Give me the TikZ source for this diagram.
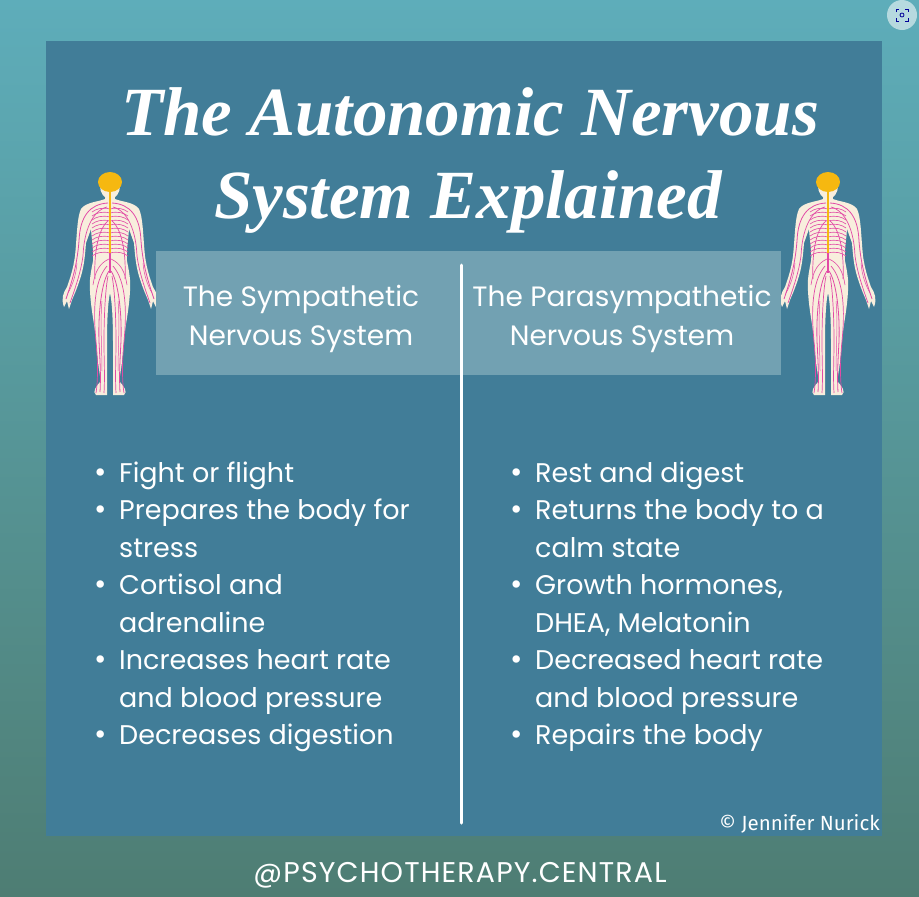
\documentclass[tikz,border=0pt]{standalone}
\usepackage{fontspec}
\setmainfont{Poppins}
\newfontfamily\titlefont{Liberation Serif}
\newfontfamily\notefont{Fira Sans}
\usetikzlibrary{positioning}
\definecolor{bgtop}{HTML}{5EADBA}
\definecolor{bgbottom}{HTML}{4E7D73}
\definecolor{panelblue}{HTML}{417D98}
\definecolor{headblue}{HTML}{72A1B2}
\definecolor{skin}{HTML}{F8EEDD}
\definecolor{nerve}{HTML}{E24AA6}
\definecolor{cord}{HTML}{F6B810}

\tikzset{
  bodyhalf/.pic={
    \fill[skin] (0,10) -- (4,11) -- (5,18) .. controls (12,21) and (24,21) .. (29,28)
      .. controls (33,36) and (33,55) .. (35,75) .. controls (37,90) and (41,100) .. (43,106)
      .. controls (47,112) and (49,118) .. (46,126) -- (43,120) -- (41,128) -- (38,119)
      .. controls (35,112) and (32,105) .. (29,95) .. controls (26,85) and (25,75) .. (24,62)
      -- (19,48) .. controls (18,62) and (16,72) .. (17,80) .. controls (19,90) and (21,100) .. (20,110)
      .. controls (19,130) and (15,145) .. (14,160) .. controls (13,175) and (11,190) .. (9,200)
      .. controls (14,205) and (18,211) .. (14,214) -- (3,214)
      .. controls (3,200) and (3,180) .. (3,160) .. controls (3,140) and (2,120) .. (0,112) -- cycle;
    % ribs
    \foreach \r in {28,32,...,72}
      \draw[nerve, line width=0.6] (0,\r) .. controls (8,\r-2) and (14,\r) .. (18,\r+3);
    % arms
    \draw[nerve, line width=0.8] (2,22) .. controls (20,23) and (30,35) .. (31,60)
      .. controls (33,85) and (38,100) .. (44,118);
    \draw[nerve, line width=0.7] (3,26) .. controls (18,30) and (26,50) .. (27,75)
      .. controls (29,90) and (34,105) .. (40,122);
    \draw[nerve, line width=0.5] (33,82) .. controls (34,95) and (38,105) .. (42,112);
    % trunk
    \draw[nerve, line width=0.7] (2,40) .. controls (14,50) and (16,80) .. (15,98);
    \draw[nerve, line width=0.6] (1,78) .. controls (10,82) and (15,90) .. (17,104);
    % legs
    \draw[nerve, line width=0.8] (1,90) .. controls (8,100) and (12,130) .. (11,160)
      .. controls (10,180) and (9,195) .. (10,211);
    \draw[nerve, line width=0.7] (2,95) .. controls (5,110) and (6,140) .. (6,160)
      .. controls (6,180) and (5,195) .. (6,212);
    \draw[nerve, line width=0.7] (3,85) .. controls (16,100) and (17,130) .. (14,160)
      .. controls (12,180) and (12,200) .. (14,212);
    \draw[nerve, line width=0.5] (8,120) .. controls (10,140) and (8,170) .. (8,190);
  },
  nervefig/.pic={
    \pic {bodyhalf};
    \pic[xscale=-1] {bodyhalf};
    % head and cord
    \fill[skin] (0,5) ellipse (10 and 13);
    \fill[cord] (0,1) ellipse (12 and 10);
    \draw[cord, line width=2.8] (0,6) -- (0,72);
    \draw[nerve, line width=2.8] (0,72) -- (0,92);
  },
  item/.style={anchor=base west, align=left, text=white, inner sep=0pt,
    font=\fontsize{27}{37.5}\selectfont},
  dot/.style={anchor=base, text=white, inner sep=0pt, font=\fontsize{30}{37.5}\selectfont},
  header/.style={align=center, text=white, font=\fontsize{28}{39}\selectfont},
  titletext/.style={text=white, font=\titlefont\bfseries\itshape\fontsize{69}{80}\selectfont}
}

\begin{document}
\begin{tikzpicture}[x=1pt, y=-1pt]
  \useasboundingbox (0,0) rectangle (919,897);
  % Background and panel
  \shade[top color=bgtop, bottom color=bgbottom] (0,0) rectangle (919,897);
  \fill[panelblue] (46,41) rectangle (882,836);
  \fill[white, opacity=0.55] (902,15) circle (15);
  \draw[blue!60!black, line width=0.8] (896,12) |- (899,9) (905,9) -| (908,12)
    (908,18) |- (905,21) (899,21) -| (896,18);
  \draw[blue!60!black, line width=0.8] (902,15) circle (2);

  % Title
  \node[titletext] (title1) at (470,112) {The Autonomic Nervous};
  \node[titletext] (title2) at (468,202) {System Explained};

  % Figures
  \pic at (110,181) {nervefig};
  \pic at (828,181) {nervefig};

  % Header box
  \fill[headblue] (156,251) rectangle (781,375);
  \node[header] (sym) at (301,319) {The Sympathetic\\Nervous System};
  \node[header] (para) at (622,319) {The Parasympathetic\\Nervous System};
  \coordinate (divtop) at (461,265);
  \coordinate (divbot) at (461,823);
  \draw[white, line width=3, line cap=round] (divtop) -- (divbot);

  % Bullet lists (dot on first line, text anchored at last line)
  \foreach \d/\y/\txt [count=\i] in {482/482/Fight or flight,
      519.5/557/{Prepares the body for\\stress}, 594.5/632/{Cortisol and\\adrenaline},
      669.5/707/{Increases heart rate\\and blood pressure}, 744.5/744.5/Decreases digestion} {
    \node[dot] (symdot\i) at (101,\d) {\textbullet};
    \node[item] (symitem\i) at (119,\y) {\txt};
  }
  \foreach \d/\y/\txt [count=\i] in {482/482/Rest and digest,
      519.5/557/{Returns the body to a\\calm state}, 594.5/632/{Growth hormones,\\DHEA, Melatonin},
      669.5/707/{Decreased heart rate\\and blood pressure}, 744.5/744.5/Repairs the body} {
    \node[dot] (paradot\i) at (517,\d) {\textbullet};
    \node[item] (paraitem\i) at (535,\y) {\txt};
  }

  % Footer
  \node[anchor=base east, text=white, inner sep=0pt, font=\notefont\fontsize{20.5}{24}\selectfont]
    (credit) at (880,830) {© Jennifer Nurick};
  \node[anchor=base, text=white, inner sep=0pt,
    font=\addfontfeatures{LetterSpace=4}\fontsize{28.5}{32}\selectfont]
    (handle) at (460,882) {@PSYCHOTHERAPY.CENTRAL};
\end{tikzpicture}
\end{document}
